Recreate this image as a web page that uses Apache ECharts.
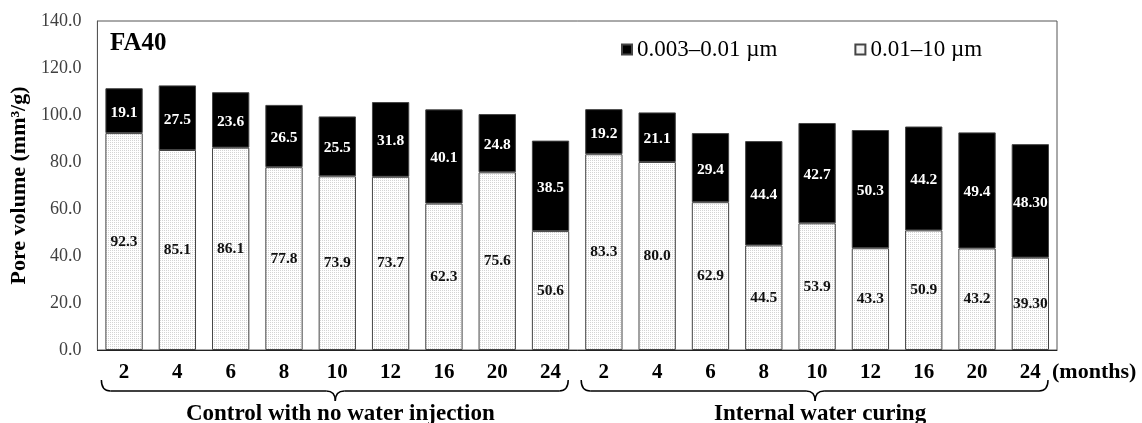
<!DOCTYPE html>
<html>
<head>
<meta charset="utf-8">
<script src="https://cdn.jsdelivr.net/npm/echarts@6/dist/echarts.min.js"></script>
<style>
html,body{margin:0;padding:0;background:#fff;}
#c{width:1142px;height:423px;}
</style>
</head>
<body>
<div id="c"></div>
<script>
// ---- data ----
const months = ['2','4','6','8','10','12','16','20','24','2','4','6','8','10','12','16','20','24'];
const groups = ['Control with no water injection', 'Internal water curing'];
const groupSize = 9;
const seriesFineName = '0.003–0.01 µm';
const seriesCoarseName = '0.01–10 µm';
// 0.01–10 µm (bottom, white) as printed in the chart
const coarseText = ['92.3','85.1','86.1','77.8','73.9','73.7','62.3','75.6','50.6','83.3','80.0','62.9','44.5','53.9','43.3','50.9','43.2','39.30'];
// 0.003–0.01 µm (top, black) as printed in the chart
const fineText = ['19.1','27.5','23.6','26.5','25.5','31.8','40.1','24.8','38.5','19.2','21.1','29.4','44.4','42.7','50.3','44.2','49.4','48.30'];
const yTicks = {min: 0, max: 140, interval: 20};

const coarse = coarseText.map(Number);
const fine = fineText.map(Number);

// ---- style ----
const FONT = 'Liberation Serif';
const pat = document.createElement('canvas');
pat.width = 2; pat.height = 2;
const pc = pat.getContext('2d');
pc.fillStyle = '#ffffff'; pc.fillRect(0,0,2,2);
pc.fillStyle = '#d4d4d4'; pc.fillRect(0,0,1,1);

const chart = echarts.init(document.getElementById('c'));
const gridLeft = 97, gridRight = 85, gridTop = 21, gridBottom = 73;

chart.setOption({
  animation: false,
  backgroundColor: '#fff',
  title: {
    text: 'FA40', left: 110, top: 31, padding: 0,
    textStyle: {fontFamily: FONT, fontWeight: 'bold', fontSize: 25, color: '#000'}
  },
  legend: {
    data: [seriesFineName, seriesCoarseName],
    left: 621, top: 38, padding: 0,
    itemWidth: 10, itemHeight: 10, itemGap: 77,
    icon: 'rect',
    textStyle: {fontFamily: FONT, fontSize: 23, color: '#000'}
  },
  grid: {left: gridLeft, right: gridRight, top: gridTop, bottom: gridBottom,
         show: true, borderColor: '#555', borderWidth: 1},
  xAxis: {
    type: 'category', data: months,
    axisTick: {show: false},
    axisLine: {lineStyle: {color: '#222', width: 1}},
    axisLabel: {interval: 0, margin: 12, fontFamily: FONT, fontWeight: 'bold', fontSize: 21, color: '#000'},
    name: '(months)', nameLocation: 'end', nameGap: -5,
    nameTextStyle: {fontFamily: FONT, fontWeight: 'bold', fontSize: 22, color: '#000',
                    align: 'left', verticalAlign: 'top', padding: [11, 0, 0, 0]}
  },
  yAxis: {
    type: 'value', min: yTicks.min, max: yTicks.max, interval: yTicks.interval,
    splitLine: {show: false},
    axisLine: {show: true, lineStyle: {color: '#555'}},
    axisTick: {show: false},
    axisLabel: {margin: 16, fontFamily: FONT, fontSize: 18, color: '#404040',
                formatter: v => v.toFixed(1)},
    name: 'Pore volume (mm³/g)', nameLocation: 'middle', nameGap: 63,
    nameTextStyle: {fontFamily: FONT, fontWeight: 'bold', fontSize: 22, color: '#000'}
  },
  series: [
    {
      name: seriesCoarseName, type: 'bar', stack: 'pv', data: coarse,
      barCategoryGap: '30%',
      itemStyle: {color: {image: pat, repeat: 'repeat'}, borderColor: '#444', borderWidth: 1},
      label: {show: true, position: 'inside', fontFamily: FONT, fontWeight: 'bold', fontSize: 15.5,
              color: '#111', formatter: p => coarseText[p.dataIndex]}
    },
    {
      name: seriesFineName, type: 'bar', stack: 'pv', data: fine,
      barCategoryGap: '30%',
      itemStyle: {color: '#000', borderColor: '#444', borderWidth: 1},
      label: {show: true, position: 'inside', offset: [0, 2], fontFamily: FONT, fontWeight: 'bold', fontSize: 15.5,
              color: '#fff', formatter: p => fineText[p.dataIndex]}
    }
  ]
});

// ---- group braces under the axis ----
function drawBraces() {
  const px = i => chart.convertToPixel({xAxisIndex: 0}, i);
  const step = px(1) - px(0);
  const halfBar = step * 0.7 / 2;
  const yAxis0 = chart.convertToPixel({yAxisIndex: 0}, 0);
  const yTop = yAxis0 + 30, yMid = yAxis0 + 41, yTip = yAxis0 + 51;
  const st = {stroke: '#000', lineWidth: 1.5, fill: null};
  const els = [];
  groups.forEach((g, gi) => {
    const first = gi * groupSize, last = first + groupSize - 1;
    const a = px(first) - halfBar - 4;
    const b = px(last) + halfBar - 1;
    const t = (px(first) + px(last)) / 2 - 2;
    const r = 9;
    els.push({type: 'bezierCurve', silent: true, style: st,
              shape: {x1: a, y1: yTop, cpx1: a, cpy1: yMid, x2: a + r, y2: yMid}});
    els.push({type: 'line', silent: true, style: st,
              shape: {x1: a + r, y1: yMid, x2: t - r, y2: yMid}});
    els.push({type: 'bezierCurve', silent: true, style: st,
              shape: {x1: t - r, y1: yMid, cpx1: t, cpy1: yMid, x2: t, y2: yTip}});
    els.push({type: 'bezierCurve', silent: true, style: st,
              shape: {x1: t, y1: yTip, cpx1: t, cpy1: yMid, x2: t + r, y2: yMid}});
    els.push({type: 'line', silent: true, style: st,
              shape: {x1: t + r, y1: yMid, x2: b - r, y2: yMid}});
    els.push({type: 'bezierCurve', silent: true, style: st,
              shape: {x1: b - r, y1: yMid, cpx1: b, cpy1: yMid, x2: b, y2: yTop}});
    els.push({type: 'text', x: t + 5, y: yAxis0 + 64, silent: true,
              style: {text: g, font: `bold 23px "${FONT}"`, fill: '#000',
                      textAlign: 'center', textVerticalAlign: 'middle'}});
  });
  chart.setOption({graphic: {elements: els}});
}
drawBraces();
</script>
</body>
</html>
